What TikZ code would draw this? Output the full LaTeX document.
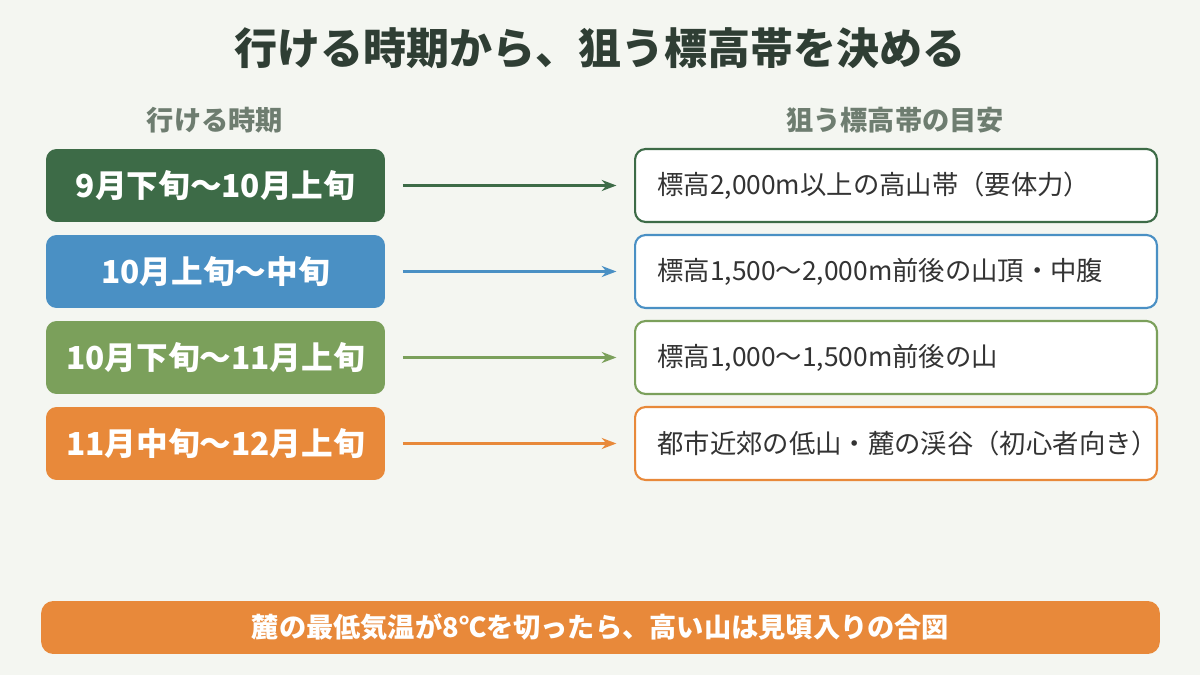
\documentclass[tikz,border=0pt]{standalone}
\usepackage{fontspec}
\setmainfont{Noto Sans CJK JP}
\usetikzlibrary{arrows.meta,positioning}
\definecolor{bgc}{HTML}{F4F6F1}
\definecolor{titlec}{HTML}{2F3E34}
\definecolor{headc}{HTML}{6E7D70}
\definecolor{txtc}{HTML}{333333}
\definecolor{cA}{HTML}{3D6B47}
\definecolor{cB}{HTML}{4A90C4}
\definecolor{cC}{HTML}{7BA05B}
\definecolor{cD}{HTML}{E8893A}
\tikzset{
  period/.style={rounded corners=6pt, minimum width=6.78cm, minimum height=1.46cm,
    text=white, font=\fontsize{18}{21}\selectfont\bfseries},
  target/.style={draw, line width=1.2pt, rounded corners=6pt, fill=white,
    minimum width=10.44cm, minimum height=1.46cm},
  tlabel/.style={anchor=west, text width=9.1cm, align=left, text=txtc,
    font=\fontsize{15}{18.7}\selectfont, inner sep=0pt},
}
\begin{document}
\begin{tikzpicture}[x=0.02cm, y=-0.02cm, >=Stealth]
  \fill[bgc] (0,0) rectangle (1200,675);
  \useasboundingbox (0,0) rectangle (1200,675);
  % title and headings
  \node[text=titlec, font=\fontsize{24.5}{28}\selectfont\bfseries] (title) at (600,48) {行ける時期から、狙う標高帯を決める};
  \node[text=headc, font=\fontsize{15.5}{18}\selectfont\bfseries] (headL) at (215,120) {行ける時期};
  \node[text=headc, font=\fontsize{15.5}{18}\selectfont\bfseries] (headR) at (895,120) {狙う標高帯の目安};
  % rows
  \foreach \i/\y/\c/\p/\t in {
    1/185.5/cA/{9月下旬〜10月上旬}/{標高2,000m以上の高山帯（要体力）},
    2/271.5/cB/{10月上旬〜中旬}/{標高1,500〜2,000m前後の山頂・中腹},
    3/357.5/cC/{10月下旬〜11月上旬}/{標高1,000〜1,500m前後の山},
    4/443.5/cD/{11月中旬〜12月上旬}/{都市近郊の低山・麓の渓谷（初心者向き）}} {
    \node[period, fill=\c] (p\i) at (215.5,\y) {\p};
    \node[target, draw=\c] (t\i) at (896,\y) {};
    \node[tlabel] (l\i) at (657,\y) {\t};
    \draw[->, \c, line width=1.2pt] ([xshift=10]p\i.east) -- ([xshift=-10]t\i.west);
  }
  % bottom note
  \node[fill=cD, rounded corners=7pt, minimum width=22.38cm, minimum height=1.06cm,
    text=white, font=\fontsize{15.5}{18}\selectfont\bfseries] (note) at (600.5,627.5)
    {麓の最低気温が8℃を切ったら、高い山は見頃入りの合図};
\end{tikzpicture}
\end{document}
